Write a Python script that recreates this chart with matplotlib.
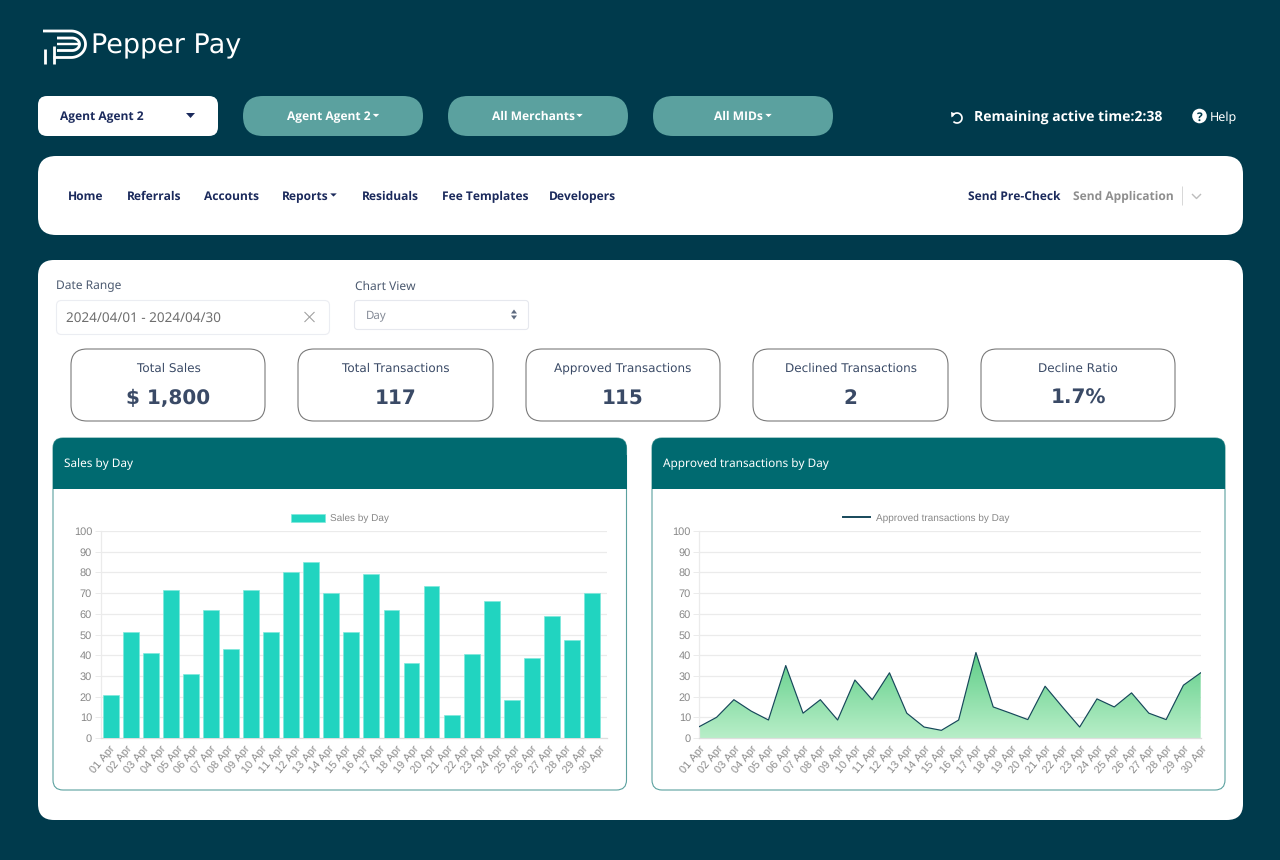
import numpy as np
import matplotlib
matplotlib.use("Agg")
import matplotlib.pyplot as plt
from matplotlib import font_manager as fm
from matplotlib import patheffects as pe
from matplotlib.patches import FancyBboxPatch, Rectangle, Polygon, Circle

plt.rcParams["text.hinting"] = "none"
plt.rcParams["text.hinting_factor"] = 1

# ---- data ----
days = [f"{d:02d} Apr" for d in range(1, 31)]
sales_by_day = [21, 51, 41, 71.5, 31, 62, 43, 71.5, 51, 80, 85, 70, 51, 79, 62, 36,
                73.5, 11, 40.5, 66, 18.5, 38.5, 59, 47.5, 70]
approved_by_day = [5.5, 10, 18.5, 13, 8.7, 35, 12, 18.5, 8.7, 28, 18.5, 31.5, 12, 5.3, 3.7,
                   8.7, 41.3, 15, 12, 8.9, 25, 15, 5.3, 18.9, 15, 21.8, 12, 8.9, 25.5, 31.5]
y_ticks = list(range(0, 101, 10))
kpi_titles = ["Total Sales", "Total Transactions", "Approved Transactions", "Declined Transactions", "Decline Ratio"]
kpi_values = ["$ 1,800", "117", "115", "2", "1.7%"]
nav_items = ["Home", "Referrals", "Accounts", "Reports", "Residuals", "Fee Templates", "Developers"]
nav_x = [68, 127, 204, 282, 362, 442, 549]
pill_labels = ["Agent Agent 2", "All Merchants", "All MIDs"]

BG = "#003A4C"
TEAL = "#5BA19F"
HEAD = "#006A70"
NAVY = "#1B2A5C"
SLATE = "#3A4A66"
BAR = "#21D4C0"
GRID = "#EBEBEB"
TICK = "#888888"

# pick a UI family that really has a bold face; otherwise thicken the regular one
weights = {}
for f in fm.fontManager.ttflist:
    w = f.weight if isinstance(f.weight, int) else 700 if str(f.weight) == "bold" else 400
    weights.setdefault(f.name, set()).add(w)
UI_BOLD = next((n for n in ["Noto Sans", "Open Sans"] if max(weights.get(n, {0})) >= 600), None)

fig = plt.figure(figsize=(12.8, 8.6), dpi=100, facecolor=BG)
bg = fig.add_axes([0, 0, 1, 1])
bg.set_xlim(0, 1280)
bg.set_ylim(860, 0)
bg.axis("off")


def rbox(x0, y0, x1, y1, r, fc="white", ec="none", lw=0, z=1):
    p = FancyBboxPatch((x0, y0), x1 - x0, y1 - y0, boxstyle=f"round,pad=0,rounding_size={r}",
                       fc=fc, ec=ec, lw=lw, zorder=z)
    bg.add_patch(p)


def txt(x, y, s, px, color="white", fam="Noto Sans", weight="normal", ha="left", z=5):
    if weight == "bold" and fam == "Noto Sans":
        if UI_BOLD:
            fam = UI_BOLD
        else:
            t = bg.text(x, y, s, fontsize=px * 0.72, color=color, family="Noto Sans",
                        ha=ha, va="baseline", zorder=z)
            t.set_path_effects([pe.withStroke(linewidth=0.45, foreground=color)])
            return
    bg.text(x, y, s, fontsize=px * 0.72, color=color, family=fam, fontweight=weight,
            ha=ha, va="baseline", zorder=z)


def caret(cx, cy, w, h, color):
    bg.add_patch(Polygon([(cx - w / 2, cy - h / 2), (cx + w / 2, cy - h / 2), (cx, cy + h / 2)],
                         fc=color, ec="none", zorder=5))


def stroke(xs, ys, lw=2.0, color="white", z=5):
    bg.plot(xs, ys, color=color, lw=lw * 0.72, solid_capstyle="butt", solid_joinstyle="round", zorder=z)


def bowl(x0, yt, yb, xs, rx, x_end, lw=2.8):
    t = np.linspace(-np.pi / 2, np.pi / 2, 40)
    cy, ry = (yt + yb) / 2, (yb - yt) / 2
    stroke(np.r_[x0, xs + rx * np.cos(t), x_end], np.r_[yt, cy + ry * np.sin(t), yb], lw=lw)


# ---- logo ----
bowl(43, 31, 57.5, 71, 14.5, 53.5)
bowl(57, 38, 50.5, 72, 7.5, 57)
stroke([57, 80], [44, 44], lw=2.4)
stroke([54, 54], [46, 64], lw=2.8)
stroke([44.5, 44.5], [49, 64], lw=2.8)
bg.text(91, 53.5, "Pepper Pay", fontsize=26.5 * 0.72, color="white", family="DejaVu Sans",
        ha="left", va="baseline", zorder=5)

# ---- top controls ----
rbox(38, 96, 218, 136, 9)
txt(59.5, 120, "Agent Agent 2", 12, NAVY, weight="bold")
caret(190.5, 115.5, 9, 5, NAVY)
for x0, lab, cx in zip([243, 448, 653], pill_labels, [329, 533, 738]):
    rbox(x0, 96, x0 + 180, 136, 20, fc=TEAL)
    txt(cx, 120, lab, 12, "white", weight="bold", ha="center")
caret(376, 115.5, 6.5, 3.2, "white")
caret(579.5, 115.5, 6.5, 3.2, "white")
caret(768.5, 115.5, 6.5, 3.2, "white")

t = np.linspace(-0.9 * np.pi, 0.75 * np.pi, 40)
stroke(957 + 5 * np.cos(t), 118 + 5 * np.sin(t), lw=1.7)
bg.add_patch(Polygon([(951, 112), (955.5, 113.5), (951.5, 117.5)], fc="white", ec="none", zorder=5))
txt(974, 122, "Remaining active time:2:38", 13.7, "white", weight="bold")
bg.add_patch(Circle((1199.5, 116), 7.3, fc="white", ec="none", zorder=5))
txt(1199.5, 120.5, "?", 12, BG, weight="bold", ha="center", z=6)
txt(1210, 120.5, "Help", 12.5, "white")

# ---- nav ----
rbox(38, 156, 1243, 235, 18)
for x, s in zip(nav_x, nav_items):
    txt(x, 200 if s != "Reports" else 200.5, s, 11.6, NAVY, weight="bold")
caret(333.5, 195, 6.5, 3.2, NAVY)
txt(967.5, 200, "Send Pre-Check", 11.6, NAVY, weight="bold")
txt(1073, 200, "Send Application", 11.6, "#8E8E8E", weight="bold")
stroke([1181.5, 1181.5], [186, 205], lw=1, color="#D8D8D8")
stroke([1192, 1196.5, 1201], [194, 198.5, 194], lw=1.4, color="#BDBDBD")

# ---- main panel ----
rbox(38, 260, 1243, 820, 16)
txt(56, 289, "Date Range", 12, "#4C5A70")
rbox(56.5, 300.5, 329.5, 334.5, 5, ec="#EBEDF2", lw=0.8, z=2)
txt(66, 322, "2024/04/01 - 2024/04/30", 13.5, "#6E6E6E")
stroke([304.5, 314.5], [312, 322], lw=1, color="#9A9A9A")
stroke([304.5, 314.5], [322, 312], lw=1, color="#9A9A9A")
txt(355, 289.5, "Chart View", 12, "#4C5A70")
rbox(354.5, 300.5, 528.5, 329.5, 3, ec="#E6E8EE", lw=0.8, z=2)
txt(365.5, 318.5, "Day", 11.5, "#858B97")
bg.add_patch(Polygon([(511, 313.5), (517, 313.5), (514, 309.5)], fc="#5E6B80", ec="none", zorder=5))
bg.add_patch(Polygon([(511, 315.5), (517, 315.5), (514, 319.5)], fc="#5E6B80", ec="none", zorder=5))

# ---- KPI cards ----
for (x0, x1), ttl, val in zip([(71, 265), (298, 493), (526, 720), (753, 948), (981, 1175)],
                              kpi_titles, kpi_values):
    rbox(x0, 349, x1, 421, 16, ec="#7A7A7A", lw=0.8, z=2)
    cx = (x0 + x1) / 2
    txt(cx, 372, ttl, 12, SLATE, fam="DejaVu Sans", ha="center")
    txt(cx, 404, val, 20.5, SLATE, fam="DejaVu Sans", weight="bold", ha="center")

# ---- chart cards ----
for x0, x1, ttl in [(53, 626.5, "Sales by Day"), (652, 1225, "Approved transactions by Day")]:
    rbox(x0, 438, x1, 790, 10, ec=TEAL, lw=0.8, z=2)
    rbox(x0, 438, x1, 470, 10, fc=HEAD, z=3)
    bg.add_patch(Rectangle((x0, 455), x1 - x0, 33.5, fc=HEAD, ec="none", zorder=3))
    txt(x0 + 11, 467.5, ttl, 11.8, "white")


def chart_axes(left, right):
    ax = fig.add_axes([left / 1280, (860 - 738) / 860, (right - left) / 1280, 207 / 860])
    ax.set_zorder(4)
    ax.patch.set_alpha(0)
    ax.set_ylim(0, 100)
    ax.set_yticks(y_ticks)
    ax.grid(axis="y", color=GRID, lw=0.9)
    ax.set_axisbelow(True)
    for s in ["top", "right"]:
        ax.spines[s].set_visible(False)
    ax.spines["left"].set_color(GRID)
    ax.spines["bottom"].set_color("#DEDEDE")
    ax.spines["left"].set_linewidth(0.9)
    ax.spines["bottom"].set_linewidth(0.9)
    ax.tick_params(axis="y", length=4, width=0.7, color=GRID, pad=2, labelcolor=TICK, labelsize=7.8)
    ax.tick_params(axis="x", length=0, pad=4, labelcolor=TICK, labelsize=7.9)
    return ax


ARIAL = "Liberation Sans"


def style_labels(ax):
    for lab in ax.get_yticklabels():
        lab.set_family(ARIAL)


# ---- bars ----
ax1 = chart_axes(100.5, 607)
ax1.bar(range(len(sales_by_day)), sales_by_day, width=0.79, color=BAR, edgecolor="#7FE8DB",
        linewidth=0.5, label="Sales by Day", zorder=3)
ax1.set_xlim(-0.51, 24.75)
ax1.set_xticks(np.linspace(-0.085, 24.33, len(days)))
ax1.set_xticklabels(days, rotation=50, ha="right", rotation_mode="anchor", family=ARIAL)
style_labels(ax1)
ax1.legend(loc="center", bbox_to_anchor=(0.473, 1.061), frameon=False, ncol=1,
           prop={"family": ARIAL, "size": 7.15}, handlelength=3.4, handleheight=0.9,
           handletextpad=0.5, borderpad=0, labelcolor=TICK)

# ---- area ----
ax2 = chart_axes(699.3, 1200.7)
x2 = np.arange(len(approved_by_day))
grad = np.linspace(0, 1, 200).reshape(-1, 1)
cmap = matplotlib.colors.LinearSegmentedColormap.from_list("g", ["#B8EEC8", "#5FCE88"])
im = ax2.imshow(grad, origin="lower", aspect="auto", cmap=cmap, zorder=2,
                extent=(0, len(x2) - 1, 0, max(approved_by_day)))
poly = ax2.fill_between(x2, approved_by_day, 0, color="none")
im.set_clip_path(poly.get_paths()[0], transform=ax2.transData)
ax2.plot(x2, approved_by_day, color="#16475A", lw=0.85, zorder=3, label="Approved transactions by Day")
ax2.set_xlim(0, len(x2) - 1)
ax2.set_ylim(0, 100)
ax2.set_xticks(x2)
ax2.set_xticklabels(days, rotation=50, ha="right", rotation_mode="anchor", family=ARIAL)
style_labels(ax2)
handles, labels = ax2.get_legend_handles_labels()
leg2 = ax2.legend(handles, labels, loc="center", bbox_to_anchor=(0.453, 1.061), frameon=False,
                  prop={"family": ARIAL, "size": 7.15}, handlelength=2.7, handletextpad=0.6,
                  borderpad=0, labelcolor=TICK)
leg2.get_lines()[0].set_linewidth(1.4)

fig.savefig("out.png", dpi=100, facecolor=BG)
